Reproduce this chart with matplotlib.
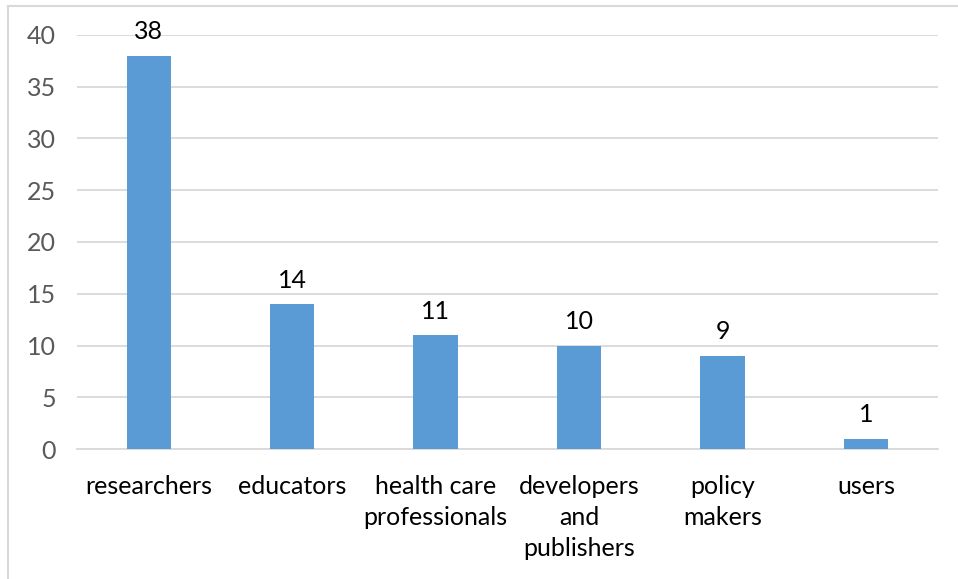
import matplotlib
matplotlib.use('Agg')
from matplotlib import pyplot as plt
from matplotlib.lines import Line2D
import numpy as np

plt.rcParams['font.family'] = ['Lato', 'DejaVu Sans']

categories = ['researchers', 'educators', 'health care\nprofessionals',
              'developers\nand\npublishers', 'policy\nmakers', 'users']
counts = [38, 14, 11, 10, 9, 1]
y_ticks = [0, 5, 10, 15, 20, 25, 30, 35, 40]

fig = plt.figure(figsize=(9.58, 5.79), dpi=100)
ax = fig.add_axes([0.0804, 0.2245, 0.979 - 0.0804, 0.9396 - 0.2245])

x = np.arange(len(categories))
bars = ax.bar(x, counts, width=0.31, color='#5B9BD5', zorder=3)

for b, v in zip(bars, counts):
    ax.annotate(str(v), (b.get_x() + b.get_width() / 2, v), xytext=(0, 9),
                textcoords='offset points', ha='center', va='bottom',
                fontsize=18, color='#000000')

ax.set_xlim(-0.5, len(categories) - 0.5)
ax.set_ylim(0, 40)
ax.set_yticks(y_ticks)
ax.set_xticks(x)
ax.set_xticklabels(categories, linespacing=1.4)
ax.yaxis.grid(True, color='#d9d9d9', linewidth=1.3, zorder=0)
ax.set_axisbelow(True)
for s in ['top', 'right', 'left']:
    ax.spines[s].set_visible(False)
ax.spines['bottom'].set_color('#d9d9d9')
ax.spines['bottom'].set_linewidth(1.3)
ax.tick_params(axis='both', length=0, labelsize=18)
ax.tick_params(axis='y', colors='#595959', pad=15)
ax.tick_params(axis='x', colors='#000000', pad=19)

# outer chart frame (only left and top edges are visible in the crop)
fig.add_artist(Line2D([8 / 958, 8 / 958], [0, 1 - 6 / 579], transform=fig.transFigure,
                      color='#d9d9d9', linewidth=1.5))
fig.add_artist(Line2D([8 / 958, 1], [1 - 6 / 579, 1 - 6 / 579], transform=fig.transFigure,
                      color='#d9d9d9', linewidth=1.5))

plt.savefig('out.png', dpi=100)
